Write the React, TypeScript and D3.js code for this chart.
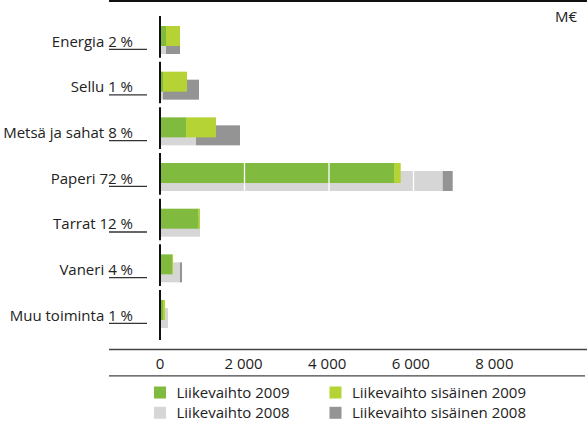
import React from "react";
import * as d3 from "d3";

const categories = ["Energia", "Sellu", "Metsä ja sahat", "Paperi", "Tarrat", "Vaneri", "Muu toiminta"];
const shares = ["2 %", "1 %", "8 %", "72 %", "12 %", "4 %", "1 %"];
const sales2009 = [142, 71, 615, 5538, 916, 284, 71];
const internal2009 = [331, 568, 710, 159, 31, 24, 47];
const sales2008 = [142, 71, 852, 6691, 947, 473, 189];
const internal2008 = [331, 852, 1041, 237, 0, 48, 0];
const xTicks = [0, 2000, 4000, 6000, 8000];
const gridTicks = [2000, 4000, 6000, 8000];
const legendLabels = ["Liikevaihto 2009", "Liikevaihto sisäinen 2009", "Liikevaihto 2008", "Liikevaihto sisäinen 2008"];
const unitLabel = "M€";

const C_GREEN = "#80ba3f";
const C_LGREEN = "#b5d334";
const C_LGRAY = "#d6d6d6";
const C_DGRAY = "#949494";
const legendColors = [C_GREEN, C_LGREEN, C_LGRAY, C_DGRAY];

const FONT = "'Open Sans', 'DejaVu Sans', sans-serif";
const FS = 15;

export default function App() {
  const W = 587, H = 425;
  const x = d3.scaleLinear().domain([0, 10000]).range([160, 582.5]);
  const y = d3.scaleBand<string>().domain(categories).range([15, 15 + 7 * 45.67]).paddingInner(0).paddingOuter(0);
  const step = y.step();
  const fmt = (v: number) => d3.format(",")(v).replace(/,/g, " ");

  return (
    <svg width={W} height={H} style={{ position: "absolute", left: 0, top: 0, background: "#fff" }} fontFamily={FONT}>
      <rect x={109} y={0} width={W - 109} height={2} fill="#111" />
      <text x={577} y={22} textAnchor="end" fontSize={FS} fill="#222">{unitLabel}</text>

      {categories.map((c, i) => {
        const top = y(c)! + 11;
        return (
          <g key={c}>
            <rect x={x(0)} y={top + 8} width={x(sales2008[i]) - x(0)} height={20} fill={C_LGRAY} />
            <rect x={x(sales2008[i])} y={top + 8} width={x(sales2008[i] + internal2008[i]) - x(sales2008[i])} height={20} fill={C_DGRAY} />
            <rect x={x(0)} y={top} width={x(sales2009[i]) - x(0)} height={20} fill={C_GREEN} />
            <rect x={x(sales2009[i])} y={top} width={x(sales2009[i] + internal2009[i]) - x(sales2009[i])} height={20} fill={C_LGREEN} />
          </g>
        );
      })}

      {gridTicks.map((t) => (
        <line key={t} x1={x(t)} x2={x(t)} y1={15} y2={340} stroke="#fff" strokeWidth={1.3} />
      ))}

      {categories.map((c, i) => {
        const b = y(c)!;
        const top = b + 11;
        const last = i === categories.length - 1;
        return (
          <g key={"l" + c}>
            <line x1={160} x2={160} y1={b + 1} y2={last ? 340 : b + step - 3} stroke="#111" strokeWidth={2} />
            <text x={133} y={top + 20.5} textAnchor="end" fontSize={FS} fill="#222">
              {c} {shares[i]}
            </text>
            <line x1={109} x2={147} y1={top + 23.3} y2={top + 23.3} stroke="#333" strokeWidth={1.3} />
          </g>
        );
      })}

      <line x1={109} x2={W} y1={349.5} y2={349.5} stroke="#444" strokeWidth={1.3} />
      {xTicks.map((t) => (
        <text key={t} x={x(t) - (t / 2000) * 0.9} y={368.5} textAnchor="middle" fontSize={FS} fill="#222">{fmt(t)}</text>
      ))}
      <line x1={109} x2={W - 2} y1={375.8} y2={375.8} stroke="#444" strokeWidth={1.3} />

      {legendLabels.map((l, i) => {
        const col = i % 2, row = Math.floor(i / 2);
        const lx = col === 0 ? 154 : 329.5;
        const ly = row === 0 ? 386.5 : 406.8;
        return (
          <g key={l}>
            <rect x={lx} y={ly} width={12} height={12} fill={legendColors[i]} />
            <text x={lx + 22.5} y={ly + 11.5} fontSize={FS} fill="#222">{l}</text>
          </g>
        );
      })}
    </svg>
  );
}
